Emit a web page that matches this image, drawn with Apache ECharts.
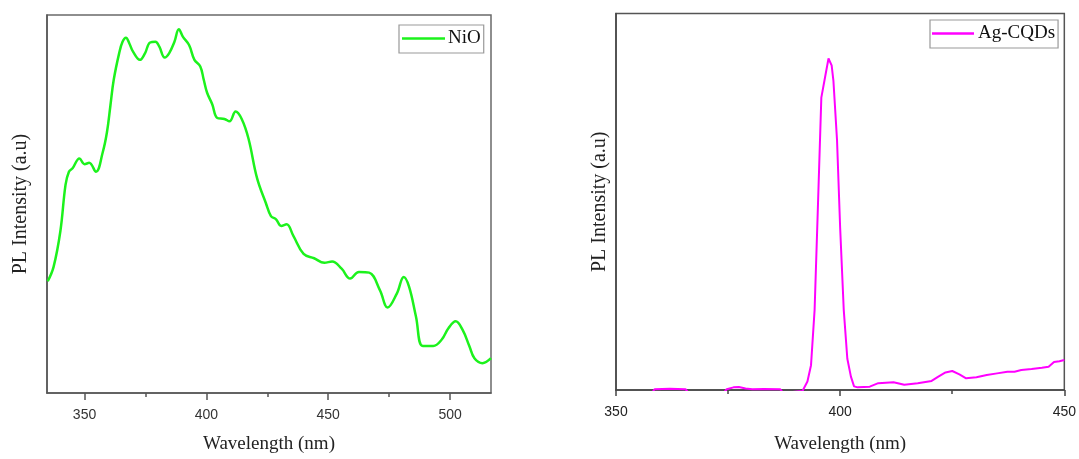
<!DOCTYPE html>
<html>
<head>
<meta charset="utf-8">
<script src="https://cdn.jsdelivr.net/npm/echarts@6/dist/echarts.min.js"></script>
<style>
html,body{margin:0;padding:0;background:#ffffff;}
#chart{width:1079px;height:459px;}
</style>
</head>
<body>
<div id="chart"></div>
<script>
// ---- Data ----
const nioWavelength = [334.9,337.3,340.1,342.2,343.6,345.1,347.9,350.0,351.9,354.7,357.5,359.2,360.6,362.0,364.2,365.6,367.0,368.4,369.9,372.7,374.8,376.9,379.1,380.7,382.9,384.7,386.9,388.7,390.4,392.9,395.1,397.5,398.9,400.3,402.4,404.5,407.4,409.5,412.0,414.5,417.3,420.8,424.4,426.5,428.6,430.7,432.9,435.7,439.9,444.2,448.4,451.6,455.5,459.0,462.6,466.8,471.2,474.4,478.2,481.0,483.2,486.0,488.8,493.1,496.6,499.4,502.3,505.1,507.9,510.0,513.3,516.8];
const nioIntensity = [113.4,128,164.4,211.2,224.5,228,238,232.2,233.5,224.5,244.5,264.5,291.2,318,344.6,356.3,360.3,354.6,346.3,338,344.6,355.6,356.3,351.3,340.3,344.6,356.3,369,361.3,353,338,331.3,318,304.6,293,279,278,275.6,285.6,278,258,218,192.8,179.5,176.2,169.5,171.1,159.4,141.1,136.7,132.1,133.4,126.1,116.1,122.8,122.1,104.4,86.7,101.1,117.7,107.7,77.7,47.7,47.7,54.3,66,72.7,64.3,47.7,35.3,30.3,35.3];

const agWavelength = [350,358.0,358.6,362.0,365.5,366.2,374.0,374.7,376.2,377.4,378.9,380.4,383.0,386.6,387.3,391.6,392.7,393.5,394.3,395.0,395.8,396.6,397.4,398.1,398.5,399.3,400.0,400.8,401.6,402.4,403.1,403.9,406.6,408.5,411.9,414.3,417.3,420.4,421.9,423.5,425.0,426.6,428.1,430.4,432.7,435.0,437.3,438.9,440.4,442.7,445.0,446.5,447.7,448.9,450];
const agIntensity = [-3,-3,0.8,1.2,0.8,-3,-3,0.8,2.7,3,1.5,0.8,1,0.8,-3,-1,8.7,25.4,82,182,299,319,339,332,316,255.7,165.6,82,32,13.7,3.7,2.7,3.4,7,8,5.3,7,9.3,13.7,18,19.4,16,12,13,15.3,17,18.7,18.7,20.4,21.4,22.7,23.7,28.7,29.4,30.7];

const nioMajorTicks = [350,400,450,500];
const nioMinorTicks = [375,425,475];
const seriesNames = ['NiO','Ag-CQDs'];
const xTitle = 'Wavelength (nm)';
const yTitle = 'PL Intensity (a.u)';

// ---- Build ----
const nioData = nioWavelength.map((w,i)=>[w,nioIntensity[i]]);
const agData = agWavelength.map((w,i)=>[w,agIntensity[i]]);

const serif = 'Liberation Serif';
const sans = 'Liberation Sans';
const axisCol = '#555';

const chart = echarts.init(document.getElementById('chart'), null, {renderer:'canvas'});
chart.setOption({
  backgroundColor:'#ffffff',
  animation:false,
  grid:[
    {left:47, top:15, width:444, height:383.5, show:true, borderColor:'#6a6a6a', borderWidth:1.5, containLabel:false},
    {left:616, top:13.5, width:450, height:385, show:true, borderColor:'#555', borderWidth:1.5, containLabel:false}
  ],
  legend:[
    {data:[seriesNames[0]], left:399, top:25, orient:'horizontal', icon:'rect',
     itemWidth:43, itemHeight:2.5, padding:[4,3,5,3], itemGap:0,
     borderColor:'#999', borderWidth:1.2,
     textStyle:{fontFamily:serif, fontSize:19, color:'#111', padding:[0,0,0,-2]}},
    {data:[seriesNames[1]], left:930, top:20, orient:'horizontal', icon:'rect',
     itemWidth:42, itemHeight:2.5, padding:[4,3,5,2], itemGap:0,
     borderColor:'#999', borderWidth:1.2,
     textStyle:{fontFamily:serif, fontSize:19, color:'#111', padding:[0,0,0,-1]}}
  ],
  xAxis:[
    {type:'value', gridIndex:0, min:334.6, max:516.8,
     axisLine:{show:true, onZero:false, lineStyle:{color:axisCol, width:1.5}},
     axisTick:{show:true, customValues:nioMajorTicks, length:7, lineStyle:{color:axisCol, width:1.5}},
     axisLabel:{show:true, customValues:nioMajorTicks, margin:15, fontFamily:sans, fontSize:14, color:'#333'},
     splitLine:{show:false},
     name:xTitle, nameLocation:'middle', nameGap:42,
     nameTextStyle:{fontFamily:serif, fontSize:19, color:'#222'}},
    {type:'value', gridIndex:0, min:334.6, max:516.8, position:'bottom',
     axisLine:{show:false, onZero:false},
     axisTick:{show:true, customValues:nioMinorTicks, length:4, lineStyle:{color:axisCol, width:1.5}},
     axisLabel:{show:false}, splitLine:{show:false}},
    {type:'value', gridIndex:1, min:350, max:450, interval:50,
     axisLine:{show:true, onZero:false, lineStyle:{color:'#444', width:1.5}},
     axisTick:{show:true, length:6, lineStyle:{color:'#444', width:1.5}},
     minorTick:{show:true, splitNumber:2, length:4, lineStyle:{color:'#444', width:1.5}},
     axisLabel:{show:true, margin:15, fontFamily:sans, fontSize:14, color:'#222'},
     splitLine:{show:false}, minorSplitLine:{show:false},
     name:xTitle, nameLocation:'middle', nameGap:45,
     nameTextStyle:{fontFamily:serif, fontSize:19, color:'#222'}}
  ],
  yAxis:[
    {type:'value', gridIndex:0, min:0, max:383.5,
     axisLine:{show:true, onZero:false, lineStyle:{color:axisCol, width:1.5}},
     axisTick:{show:false}, axisLabel:{show:false}, splitLine:{show:false},
     name:yTitle, nameLocation:'middle', nameGap:16,
     nameTextStyle:{fontFamily:serif, fontSize:20, color:'#222'}},
    {type:'value', gridIndex:1, min:0, max:385,
     axisLine:{show:true, onZero:false, lineStyle:{color:'#444', width:1.5}},
     axisTick:{show:false}, axisLabel:{show:false}, splitLine:{show:false},
     name:yTitle, nameLocation:'middle', nameGap:6,
     nameTextStyle:{fontFamily:serif, fontSize:20, color:'#222'}}
  ],
  series:[
    {name:seriesNames[0], type:'line', xAxisIndex:0, yAxisIndex:0, data:nioData,
     showSymbol:false, symbol:'none', smooth:0.4, clip:true,
     lineStyle:{color:'#1cf21c', width:2.5}, itemStyle:{color:'#1cf21c'}},
    {name:seriesNames[1], type:'line', xAxisIndex:2, yAxisIndex:1, data:agData,
     showSymbol:false, symbol:'none', smooth:false, clip:true,
     lineStyle:{color:'#ff00ff', width:2}, itemStyle:{color:'#ff00ff'}}
  ]
});
</script>
</body>
</html>
